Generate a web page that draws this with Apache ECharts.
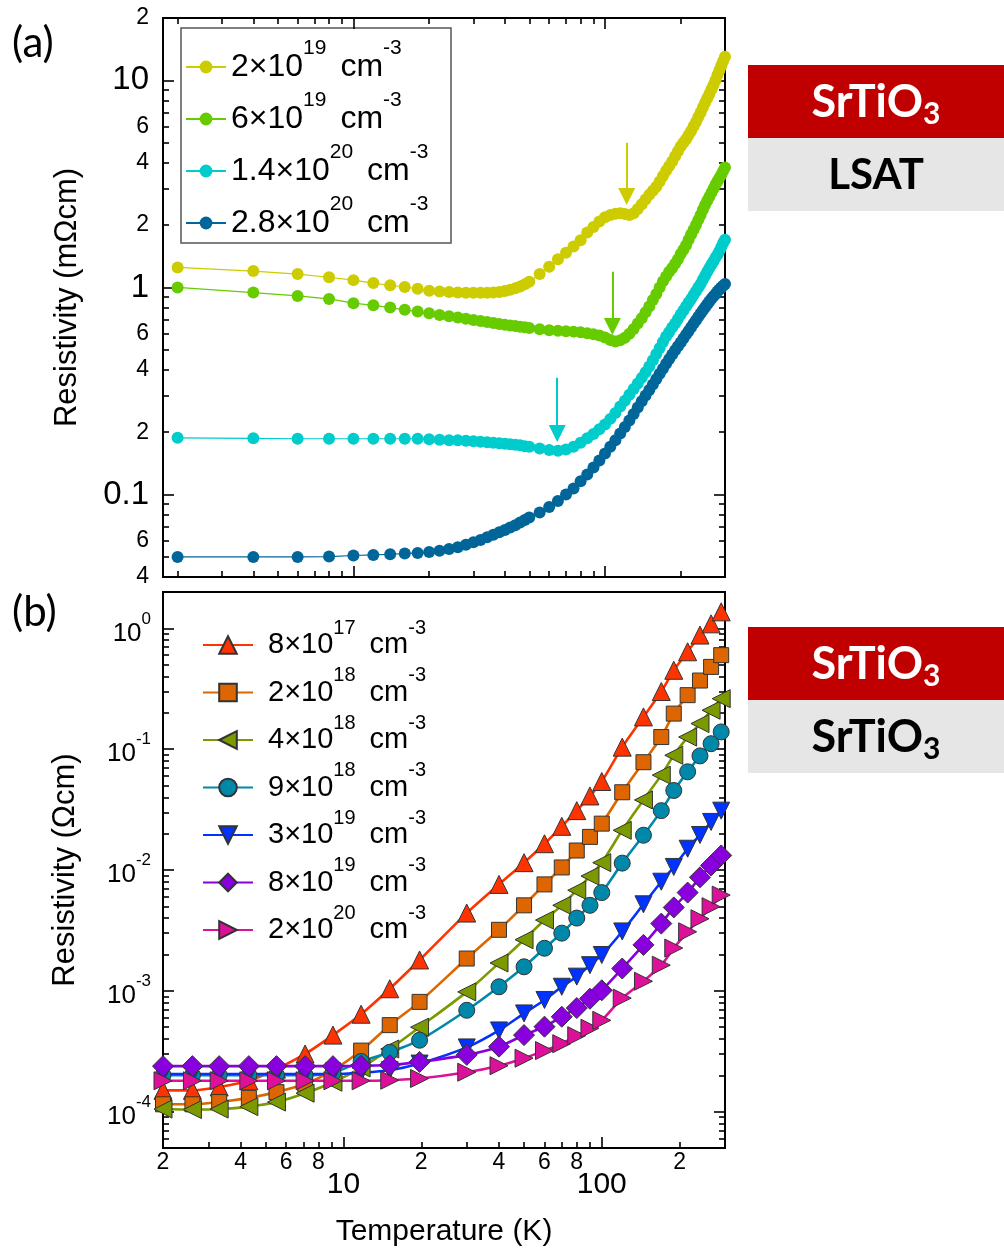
<!DOCTYPE html>
<html>
<head>
<meta charset="utf-8">
<script src="https://cdn.jsdelivr.net/npm/echarts@6/dist/echarts.min.js"></script>
<style>
  html, body { margin: 0; padding: 0; background: #ffffff; }
  #chart { width: 1004px; height: 1249px; }
</style>
</head>
<body>
<div id="chart"></div>
<script>
// ---------- Panel (a): SrTiO3 film on LSAT, resistivity in mOhm cm ----------
const tempA = [2, 4, 6, 8, 10, 12, 14, 16, 18, 20, 22, 24, 26, 28, 30, 32, 34, 36, 38, 40, 42, 44, 46, 48, 50,
  55, 60, 65, 70, 75, 80, 85, 90, 95, 100, 105, 110, 115, 120, 125, 130, 135, 140, 145, 150,
  155, 160, 165, 170, 175, 180, 185, 190, 195, 200, 205, 210, 215, 220, 225, 230, 235, 240, 245, 250,
  255, 260, 265, 270, 275, 280, 285, 290, 295, 300];

const rho_2e19 = [1.25, 1.20, 1.16, 1.12, 1.085, 1.05, 1.025, 1.005, 0.985, 0.965, 0.955, 0.95, 0.945, 0.943, 0.942,
  0.942, 0.943, 0.946, 0.952, 0.962, 0.975, 0.99, 1.01, 1.035, 1.065,
  1.16, 1.26, 1.37, 1.47, 1.575, 1.69, 1.84, 1.96, 2.08, 2.18, 2.24, 2.27, 2.28, 2.26, 2.24, 2.28, 2.39, 2.52, 2.66, 2.8,
  2.93, 3.06, 3.25, 3.45, 3.66, 3.86, 4.06, 4.3, 4.55, 4.8, 5.0, 5.2, 5.45, 5.7, 6.0, 6.3, 6.65, 7.0, 7.4, 7.8,
  8.2, 8.6, 9.05, 9.5, 10.0, 10.6, 11.2, 11.8, 12.4, 13.0];

const rho_6e19 = [1.0, 0.945, 0.91, 0.88, 0.84, 0.82, 0.80, 0.78, 0.765, 0.75, 0.737, 0.727, 0.717, 0.706, 0.697,
  0.689, 0.681, 0.674, 0.667, 0.661, 0.656, 0.651, 0.646, 0.642, 0.638,
  0.629, 0.622, 0.618, 0.615, 0.612, 0.607, 0.601, 0.594, 0.586, 0.574, 0.558, 0.548, 0.556, 0.572, 0.597, 0.63, 0.67, 0.71, 0.76, 0.81,
  0.87, 0.93, 1.0, 1.07, 1.13, 1.19, 1.24, 1.3, 1.37, 1.45, 1.52, 1.6, 1.7, 1.8, 1.9, 2.0, 2.12, 2.24, 2.37, 2.5,
  2.62, 2.74, 2.87, 3.0, 3.13, 3.26, 3.38, 3.5, 3.65, 3.8];

const rho_14e20 = [0.188, 0.187, 0.186, 0.186, 0.186, 0.186, 0.186, 0.186, 0.186, 0.185, 0.184, 0.183, 0.183, 0.182, 0.181,
  0.18, 0.179, 0.178, 0.177, 0.176, 0.175, 0.174, 0.173, 0.171, 0.17,
  0.167, 0.164, 0.163, 0.165, 0.17, 0.178, 0.187, 0.196, 0.207, 0.218, 0.232, 0.248, 0.266, 0.284, 0.303, 0.323, 0.344, 0.366, 0.39, 0.415,
  0.445, 0.477, 0.51, 0.545, 0.58, 0.61, 0.64, 0.67, 0.705, 0.74, 0.775, 0.81, 0.845, 0.88, 0.92, 0.96, 1.0, 1.04, 1.09, 1.14,
  1.19, 1.24, 1.29, 1.34, 1.39, 1.44, 1.5, 1.57, 1.64, 1.7];

const rho_28e20 = [0.05, 0.05, 0.05, 0.0502, 0.0508, 0.0511, 0.0515, 0.0519, 0.0523, 0.0528, 0.0536, 0.0546, 0.0557, 0.0572, 0.0588,
  0.0604, 0.0622, 0.064, 0.0658, 0.0675, 0.0693, 0.0712, 0.0733, 0.0754, 0.0776,
  0.082, 0.087, 0.093, 0.1, 0.107, 0.116, 0.125, 0.135, 0.146, 0.158, 0.17, 0.183, 0.197, 0.212, 0.228, 0.245, 0.263, 0.282, 0.301, 0.32,
  0.34, 0.361, 0.383, 0.405, 0.428, 0.451, 0.474, 0.497, 0.52, 0.543, 0.567, 0.592, 0.617, 0.643, 0.669, 0.695, 0.722, 0.749, 0.776, 0.803,
  0.83, 0.856, 0.882, 0.907, 0.931, 0.955, 0.978, 1.0, 1.02, 1.04];

const namesA = ['2×10^19 cm^-3', '6×10^19 cm^-3', '1.4×10^20 cm^-3', '2.8×10^20 cm^-3'];

// Arrows marking the resistivity anomaly: [temperature, tail value, head value]
const arrowsA = [[122, 5.0, 2.75], [107, 1.19, 0.648], [64.6, 0.366, 0.197]];

// ---------- Panel (b): SrTiO3 film on SrTiO3, resistivity in Ohm cm ----------
const tempB = [2, 2.6, 3.3, 4.3, 5.5, 7.1, 9.1, 11.7, 15.1, 19.7, 30, 40, 50, 60, 70, 80, 90, 100,
  120, 145, 170, 190, 215, 240, 265, 290];

const rho_8e17 = [1.5e-4, 1.5e-4, 1.6e-4, 1.8e-4, 2.25e-4, 3.0e-4, 4.3e-4, 6.4e-4, 1.04e-3, 1.8e-3, 4.4e-3, 7.6e-3,
  1.15e-2, 1.65e-2, 2.3e-2, 3.1e-2, 4.1e-2, 5.4e-2, 0.104, 0.185, 0.3, 0.45, 0.64, 0.88, 1.09, 1.37];
const rho_2e18 = [1.15e-4, 1.15e-4, 1.2e-4, 1.3e-4, 1.45e-4, 1.7e-4, 2.2e-4, 3.2e-4, 5.2e-4, 8.1e-4, 1.85e-3, 3.2e-3,
  5.1e-3, 7.6e-3, 1.05e-2, 1.45e-2, 1.88e-2, 2.42e-2, 4.4e-2, 7.8e-2, 0.126, 0.197, 0.28, 0.37, 0.48, 0.6];
const rho_4e18 = [1.05e-4, 1.04e-4, 1.05e-4, 1.1e-4, 1.2e-4, 1.42e-4, 1.75e-4, 2.3e-4, 3.3e-4, 5.0e-4, 9.8e-4, 1.7e-3,
  2.65e-3, 3.85e-3, 5.1e-3, 6.8e-3, 8.9e-3, 1.15e-2, 2.13e-2, 3.8e-2, 6.1e-2, 8.9e-2, 0.126, 0.163, 0.21, 0.262];
const rho_9e18 = [2.0e-4, 2.0e-4, 2.0e-4, 2.0e-4, 2.0e-4, 2.0e-4, 2.1e-4, 2.6e-4, 3.1e-4, 3.9e-4, 6.9e-4, 1.08e-3,
  1.58e-3, 2.25e-3, 3.0e-3, 4.0e-3, 5.1e-3, 6.5e-3, 1.14e-2, 1.94e-2, 3.1e-2, 4.55e-2, 6.5e-2, 8.8e-2, 0.111, 0.139];
const rho_3e19 = [2.05e-4, 2.05e-4, 2.05e-4, 2.05e-4, 2.05e-4, 2.05e-4, 2.05e-4, 2.1e-4, 2.2e-4, 2.5e-4, 3.4e-4, 4.7e-4,
  6.5e-4, 8.4e-4, 1.08e-3, 1.31e-3, 1.63e-3, 1.98e-3, 3.1e-3, 5.2e-3, 8.0e-3, 1.06e-2, 1.5e-2, 1.95e-2, 2.5e-2, 3.1e-2];
const rho_8e19 = [2.38e-4, 2.38e-4, 2.38e-4, 2.38e-4, 2.38e-4, 2.38e-4, 2.38e-4, 2.4e-4, 2.43e-4, 2.58e-4, 2.95e-4, 3.45e-4,
  4.3e-4, 5.05e-4, 6.1e-4, 7.2e-4, 8.6e-4, 1.01e-3, 1.53e-3, 2.4e-3, 3.6e-3, 4.9e-3, 6.5e-3, 8.7e-3, 1.09e-2, 1.32e-2];
const rho_2e20 = [1.8e-4, 1.8e-4, 1.8e-4, 1.8e-4, 1.8e-4, 1.8e-4, 1.8e-4, 1.8e-4, 1.82e-4, 1.88e-4, 2.12e-4, 2.4e-4,
  2.77e-4, 3.2e-4, 3.65e-4, 4.25e-4, 4.9e-4, 5.7e-4, 8.7e-4, 1.2e-3, 1.63e-3, 2.26e-3, 3.08e-3, 3.95e-3, 4.97e-3, 6.2e-3];

const namesB = ['8×10^17 cm^-3', '2×10^18 cm^-3', '4×10^18 cm^-3', '9×10^18 cm^-3',
  '3×10^19 cm^-3', '8×10^19 cm^-3', '2×10^20 cm^-3'];

// ---------- Ticks and tick labels ----------
const xMinorTicks = [2, 3, 4, 5, 6, 7, 8, 9, 20, 30, 40, 50, 60, 70, 80, 90, 200, 300];
const xMajorTicks = [10, 100];
const xLabelValues = [2, 4, 6, 8, 10, 20, 40, 60, 80, 100, 200];
const xLabelTexts = ['2', '4', '6', '8', '10', '2', '4', '6', '8', '100', '2'];

const yMinorTicksA = [0.04, 0.05, 0.06, 0.07, 0.08, 0.09, 0.2, 0.3, 0.4, 0.5, 0.6, 0.7, 0.8, 0.9,
  2, 3, 4, 5, 6, 7, 8, 9, 20];
const yMajorTicksA = [0.1, 1, 10];
const yLabelValuesA = [0.04, 0.06, 0.1, 0.2, 0.4, 0.6, 1, 2, 4, 6, 10, 20];
const yLabelTextsA = ['4', '6', '0.1', '2', '4', '6', '1', '2', '4', '6', '10', '2'];

const yMinorTicksB = [5e-5, 6e-5, 7e-5, 8e-5, 9e-5,
  2e-4, 3e-4, 4e-4, 5e-4, 6e-4, 7e-4, 8e-4, 9e-4,
  2e-3, 3e-3, 4e-3, 5e-3, 6e-3, 7e-3, 8e-3, 9e-3,
  2e-2, 3e-2, 4e-2, 5e-2, 6e-2, 7e-2, 8e-2, 9e-2,
  0.2, 0.3, 0.4, 0.5, 0.6, 0.7, 0.8, 0.9, 2];
const yMajorTicksB = [1e-4, 1e-3, 1e-2, 1e-1, 1];
const yLabelValuesB = [1e-4, 1e-3, 1e-2, 1e-1, 1];
const yLabelExpB = ['-4', '-3', '-2', '-1', '0'];

// ---------- Styling ----------
const FONT = 'Liberation Sans, Arial, sans-serif';
const colorsA = ['#cccc00', '#66cc00', '#00cccc', '#006699'];
const stylesB = [
  { color: '#ff3300', symbol: 'triangle', size: 18 },
  { color: '#dd6600', symbol: 'rect', size: 15 },
  { color: '#7a9a00', symbol: 'path://M0,5 L10,0 L10,10 Z', size: 18 },
  { color: '#0088aa', symbol: 'circle', size: 16 },
  { color: '#0033ff', symbol: 'path://M0,0 L10,0 L5,10 Z', size: 17 },
  { color: '#8800dd', symbol: 'diamond', size: 21 },
  { color: '#dd1199', symbol: 'path://M10,5 L0,0 L0,10 Z', size: 18 }
];
const seriesValuesA = [rho_2e19, rho_6e19, rho_14e20, rho_28e20];
const seriesValuesB = [rho_8e17, rho_2e18, rho_4e18, rho_9e18, rho_3e19, rho_8e19, rho_2e20];

function findIndex(values, v) {
  for (let i = 0; i < values.length; i++) {
    if (Math.abs(Math.log10(values[i]) - Math.log10(v)) < 1e-6) return i;
  }
  return -1;
}

// "2×10^19 cm^-3" -> rich text with superscripts
function richConcentration(name, firstStyle) {
  const m = name.match(/^(.*)\^(\S+) cm\^(\S+)$/);
  return '{' + firstStyle + '|' + m[1] + '}{p|' + m[2] + '}{c|cm}{p|' + m[3] + '}';
}

function logAxis(extra) {
  return Object.assign({
    type: 'log', logBase: 10,
    axisLine: { show: false, onZero: false },
    splitLine: { show: false },
    minorTick: { show: false },
    axisLabel: { show: false },
    axisTick: { show: false }
  }, extra);
}
function ticks(values, length) {
  return { show: true, inside: true, length: length, customValues: values,
    lineStyle: { color: '#000', width: 1.6 } };
}

const X_A = { min: 1.75, max: 300 };
const X_B = { min: 2, max: 300 };
const Y_A = { min: 0.04, max: 20 };
const Y_B = { min: 5e-5, max: 2 };
const MINOR = 6, MAJOR = 11;

const xAxes = [
  // panel (a)
  logAxis(Object.assign({ gridIndex: 0, position: 'bottom', axisTick: ticks(xMinorTicks, MINOR) }, X_A)),
  logAxis(Object.assign({ gridIndex: 0, position: 'bottom', axisTick: ticks(xMajorTicks, MAJOR) }, X_A)),
  logAxis(Object.assign({ gridIndex: 0, position: 'top', axisTick: ticks(xMinorTicks, MINOR) }, X_A)),
  logAxis(Object.assign({ gridIndex: 0, position: 'top', axisTick: ticks(xMajorTicks, MAJOR) }, X_A)),
  // panel (b)
  logAxis(Object.assign({
    gridIndex: 1, position: 'bottom', axisTick: ticks(xMinorTicks, MINOR),
    name: 'Temperature (K)', nameLocation: 'middle', nameGap: 69,
    nameTextStyle: { fontFamily: FONT, fontSize: 30, color: '#000' },
    axisLabel: {
      show: true, customValues: xLabelValues, margin: 4, color: '#000',
      formatter: function (v) {
        const i = findIndex(xLabelValues, v);
        if (i < 0) return '';
        const big = findIndex(xMajorTicks, v) >= 0;
        return '{' + (big ? 'b' : 's') + '|' + xLabelTexts[i] + '}';
      },
      rich: {
        s: { fontFamily: FONT, fontSize: 23, lineHeight: 22, color: '#000' },
        b: { fontFamily: FONT, fontSize: 30, lineHeight: 30, padding: [36, 0, 0, 0], color: '#000' }
      }
    }
  }, X_B)),
  logAxis(Object.assign({ gridIndex: 1, position: 'bottom', axisTick: ticks(xMajorTicks, MAJOR) }, X_B))
];

const yAxes = [
  // panel (a)
  logAxis(Object.assign({
    gridIndex: 0, position: 'left', axisTick: ticks(yMinorTicksA, MINOR),
    name: 'Resistivity (mΩcm)', nameLocation: 'middle', nameGap: 80, nameRotate: 90,
    nameTextStyle: { fontFamily: FONT, fontSize: 31, color: '#000' },
    axisLabel: {
      show: true, customValues: yLabelValuesA, margin: 14, color: '#000',
      formatter: function (v) {
        const i = findIndex(yLabelValuesA, v);
        if (i < 0) return '';
        const big = findIndex(yMajorTicksA, v) >= 0;
        return '{' + (big ? 'b' : 's') + '|' + yLabelTextsA[i] + '}';
      },
      rich: {
        s: { fontFamily: FONT, fontSize: 23, color: '#000' },
        b: { fontFamily: FONT, fontSize: 33, color: '#000' }
      }
    }
  }, Y_A)),
  logAxis(Object.assign({ gridIndex: 0, position: 'left', axisTick: ticks(yMajorTicksA, MAJOR) }, Y_A)),
  logAxis(Object.assign({ gridIndex: 0, position: 'right', axisTick: ticks(yMinorTicksA, MINOR) }, Y_A)),
  logAxis(Object.assign({ gridIndex: 0, position: 'right', axisTick: ticks(yMajorTicksA, MAJOR) }, Y_A)),
  // panel (b)
  logAxis(Object.assign({
    gridIndex: 1, position: 'left', axisTick: ticks(yMinorTicksB, MINOR),
    name: 'Resistivity (Ωcm)', nameLocation: 'middle', nameGap: 82, nameRotate: 90,
    nameTextStyle: { fontFamily: FONT, fontSize: 31, color: '#000' },
    axisLabel: {
      show: true, customValues: yLabelValuesB, margin: 12, color: '#000',
      formatter: function (v) {
        const i = findIndex(yLabelValuesB, v);
        if (i < 0) return '';
        return '{m|10}{p|' + yLabelExpB[i] + '}';
      },
      rich: {
        m: { fontFamily: FONT, fontSize: 26, lineHeight: 36, verticalAlign: 'bottom', color: '#000' },
        p: { fontFamily: FONT, fontSize: 17, verticalAlign: 'top', color: '#000' }
      }
    }
  }, Y_B)),
  logAxis(Object.assign({ gridIndex: 1, position: 'left', axisTick: ticks(yMajorTicksB, MAJOR) }, Y_B)),
  logAxis(Object.assign({ gridIndex: 1, position: 'right', axisTick: ticks(yMinorTicksB, MINOR) }, Y_B)),
  logAxis(Object.assign({ gridIndex: 1, position: 'right', axisTick: ticks(yMajorTicksB, MAJOR) }, Y_B))
];

const seriesA = namesA.map(function (name, i) {
  const s = {
    type: 'line', name: name, xAxisIndex: 0, yAxisIndex: 0,
    data: tempA.map(function (t, k) { return [t, seriesValuesA[i][k]]; }),
    symbol: 'circle', symbolSize: 12, showSymbol: true, showAllSymbol: true,
    lineStyle: { width: 1.2, color: colorsA[i] },
    itemStyle: { color: colorsA[i] },
    clip: false, silent: true
  };
  if (arrowsA[i]) {
    const a = arrowsA[i];
    s.markLine = {
      silent: true, animation: false,
      symbol: ['none', 'triangle'], symbolSize: 17,
      label: { show: false },
      lineStyle: { color: colorsA[i], width: 2, type: 'solid' },
      data: [[{ coord: [a[0], a[1]] }, { coord: [a[0], a[2]] }]]
    };
  }
  return s;
});

const seriesB = namesB.map(function (name, i) {
  const st = stylesB[i];
  return {
    type: 'line', name: name, xAxisIndex: 4, yAxisIndex: 4,
    data: tempB.map(function (t, k) { return [t, seriesValuesB[i][k]]; }),
    smooth: 0.25,
    symbol: st.symbol, symbolSize: st.size, showSymbol: true, showAllSymbol: true,
    lineStyle: { width: 2.6, color: st.color },
    itemStyle: { color: st.color, borderColor: '#333', borderWidth: 1 },
    clip: false, silent: true
  };
});

const richA = {
  f: { fontFamily: FONT, fontSize: 32, lineHeight: 58, color: '#000' },
  c: { fontFamily: FONT, fontSize: 32, lineHeight: 58, padding: [0, 0, 0, 14], color: '#000' },
  p: { fontFamily: FONT, fontSize: 21, verticalAlign: 'top', color: '#000' }
};
const richB = {
  f: { fontFamily: FONT, fontSize: 29, lineHeight: 54, padding: [0, 0, 0, 10], color: '#000' },
  c: { fontFamily: FONT, fontSize: 29, lineHeight: 54, padding: [0, 0, 0, 14], color: '#000' },
  p: { fontFamily: FONT, fontSize: 20, verticalAlign: 'top', color: '#000' }
};

function substrateBox(top, bottomLabel, bottomSize) {
  return [
    { type: 'rect', shape: { x: 748, y: top, width: 256, height: 73 }, style: { fill: '#c00000' }, silent: true },
    { type: 'rect', shape: { x: 748, y: top + 73, width: 256, height: 73 }, style: { fill: '#e6e6e6' }, silent: true },
    { type: 'text', x: 876, y: top + 37, silent: true,
      style: { text: '{m|SrTiO}{s|3}', align: 'center', verticalAlign: 'middle',
        rich: {
          m: { fontFamily: 'Lato, sans-serif', fontWeight: 'bold', fontSize: 45, lineHeight: 54, fill: '#ffffff' },
          s: { fontFamily: 'Lato, sans-serif', fontWeight: 'bold', fontSize: 30, verticalAlign: 'bottom', fill: '#ffffff' }
        } } },
    { type: 'text', x: 876, y: top + 110, silent: true,
      style: { text: bottomLabel, align: 'center', verticalAlign: 'middle',
        rich: {
          m: { fontFamily: 'Lato, sans-serif', fontWeight: 'bold', fontSize: bottomSize, lineHeight: 54, fill: '#000000' },
          s: { fontFamily: 'Lato, sans-serif', fontWeight: 'bold', fontSize: 30, verticalAlign: 'bottom', fill: '#000000' }
        } } }
  ];
}

const option = {
  animation: false,
  backgroundColor: '#ffffff',
  grid: [
    { left: 163, top: 18, width: 562, height: 559, show: true, borderColor: '#000', borderWidth: 2,
      backgroundColor: 'transparent', containLabel: false, outerBoundsMode: 'none' },
    { left: 163, top: 592, width: 562, height: 556, show: true, borderColor: '#000', borderWidth: 2,
      backgroundColor: 'transparent', containLabel: false, outerBoundsMode: 'none' }
  ],
  xAxis: xAxes,
  yAxis: yAxes,
  legend: [
    { data: namesA, orient: 'vertical', left: 185, top: 38, padding: 0, itemGap: 7,
      itemWidth: 40, itemHeight: 16, selectedMode: false,
      formatter: function (n) { return richConcentration(n, 'f'); },
      textStyle: { fontFamily: FONT, color: '#000', rich: richA } },
    { data: namesB, orient: 'vertical', left: 202, top: 618, padding: 0, itemGap: 6,
      itemWidth: 50, itemHeight: 22, selectedMode: false,
      formatter: function (n) { return richConcentration(n, 'f'); },
      textStyle: { fontFamily: FONT, color: '#000', rich: richB } }
  ],
  graphic: [
    { type: 'rect', shape: { x: 181, y: 28, width: 270, height: 215 },
      style: { fill: 'none', stroke: '#555', lineWidth: 1.5 }, silent: true },
    { type: 'text', x: 12, y: 22, silent: true,
      style: { text: '(a)', fontFamily: 'Lato, sans-serif', fontSize: 42, fill: '#000' } },
    { type: 'text', x: 12, y: 591, silent: true,
      style: { text: '(b)', fontFamily: 'Lato, sans-serif', fontSize: 42, fill: '#000' } }
  ].concat(substrateBox(65, '{m|LSAT}', 42), substrateBox(627, '{m|SrTiO}{s|3}', 45)),
  series: seriesA.concat(seriesB)
};

const chart = echarts.init(document.getElementById('chart'), null, { renderer: 'canvas' });
chart.setOption(option);
</script>
</body>
</html>
